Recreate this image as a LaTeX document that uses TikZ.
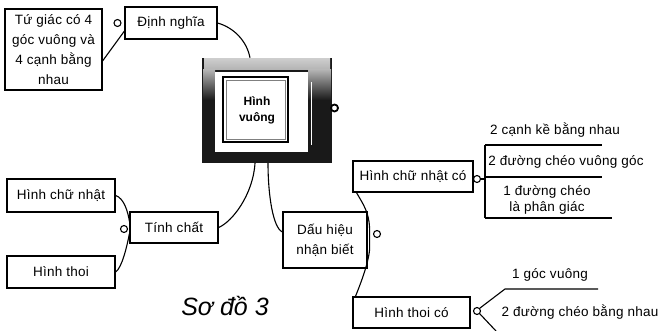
\documentclass[tikz,border=0pt]{standalone}
\usepackage{fontspec}
\setmainfont{Liberation Sans}
\newfontfamily\lab[LetterSpace=2]{Liberation Sans}
\begin{document}
\begin{tikzpicture}[x=1pt,y=-1pt,
  box/.style={draw, line width=1.1pt, fill=white, font=\lab\fontsize{13.5}{20}\selectfont, align=center, inner sep=0pt},
  lbl/.style={font=\lab\fontsize{13.5}{16}\selectfont, align=center, inner sep=0pt},
  conn/.style={line width=1.1pt},
  knob/.style={circle, draw, line width=1.1pt, minimum size=7pt, inner sep=0pt, fill=white,
    path picture={\fill (path picture bounding box.center) circle (1.1pt);}}]
\useasboundingbox (0,0) rectangle (662,331);

% central box
\fill[black!90] (202,58) rectangle (332,163);
\shade[top color=gray!40, bottom color=gray!60] (204,59) rectangle (330,70);
\shade[top color=gray!60, bottom color=black!90] (203,70) rectangle (215,100);
\shade[top color=gray!60, bottom color=black!90] (308,70) rectangle (331,100);
\fill[white] (215,72) rectangle (308,152);
\draw[white, line width=0.8pt] (311,82) -- (311,145);
\draw[line width=1.6pt] (223,77) rectangle (288,142);
\draw[gray, line width=0.6pt] (226,80) rectangle (285,139);
\node[draw=none, minimum width=130pt, minimum height=105pt, inner sep=0pt] (hv) at (267,110.5) {};
\node[font=\fontsize{12}{16}\selectfont\bfseries, align=center] (hvt) at (257,110) {Hình\\vuông};
\node[circle, draw, line width=1.8pt, minimum size=7pt, inner sep=0pt, fill=white,
  path picture={\fill (path picture bounding box.center) circle (1.2pt);}] (kc) at (334.5,108) {};

% boxes
\node[box, minimum width=97pt, minimum height=81pt] (tg) at (53.5,49.5) {Tứ giác có 4\\góc vuông và\\4 cạnh bằng\\nhau};
\node[box, minimum width=92pt, minimum height=32pt] (dn) at (171,23) {Định nghĩa};
\node[box, minimum width=108pt, minimum height=33pt] (hcn) at (61,195.5) {Hình chữ nhật};
\node[box, minimum width=108pt, minimum height=32pt] (ht) at (61,272) {Hình thoi};
\node[box, minimum width=88pt, minimum height=31pt] (tc) at (174,227.5) {Tính chất};
\node[box, minimum width=84pt, minimum height=56pt] (dh) at (325,240) {Dấu hiệu\\nhận biết};
\node[box, minimum width=120pt, minimum height=31pt] (hcnco) at (413,176.5) {Hình chữ nhật có};
\node[box, minimum width=117pt, minimum height=31pt] (htco) at (411.5,312.5) {Hình thoi có};

% connectors
\draw[conn] ([yshift=-11.5pt]tg.east) -- ([yshift=-8pt]dn.west);
\draw[conn] (dn.east) .. controls (235,28) and (247,42) .. ([xshift=-17pt]hv.north);
\draw[conn] ([xshift=-12pt]hv.south) .. controls (253,195) and (232,222) .. (tc.east);
\draw[conn] ([xshift=1pt]hv.south) .. controls (268,195) and (273,228) .. ([yshift=8pt]dh.west);
\draw[conn] (hcn.east) .. controls (124,198) and (128,212) .. ([yshift=6pt]tc.west);
\draw[conn] (ht.east) .. controls (122,268) and (127,246) .. ([yshift=-6pt]tc.west);
\draw[conn] ([xshift=4pt]hcnco.south west) .. controls (363,204) and (369,212) .. ([xshift=2pt,yshift=12pt]dh.east)
  -- ([xshift=2pt,yshift=-10pt]dh.east) .. controls (368,265) and (360,285) .. ([xshift=3pt]htco.north west);

\node[knob] (k1) at (117.5,23) {};
\node[knob] (k3) at (124,229) {};
\node[knob] (k4) at (377,234) {};
\node[knob] (k5) at (477,179) {};
\node[knob] (k6) at (477,311) {};

% bracket of Hinh chu nhat co
\coordinate (b1) at (485,145);
\coordinate (b2) at (485,177);
\coordinate (b3) at (485,218);
\coordinate (bm) at (485,179);
\draw[conn] (b1) -- (b3);
\draw[conn] (b1) -- ++(117,0);
\draw[conn] (b2) -- ++(117,0);
\draw[conn] (b3) -- ++(127,0);
\draw[conn] (k5.east) -- (bm);
\node[lbl] (t1) at (555,130) {2 cạnh kề bằng nhau};
\node[lbl] (t2) at (566,162) {2 đường chéo vuông góc};
\node[lbl] (t3) at (547,200) {1 đường chéo\\là phân giác};

% branches of Hinh thoi co
\coordinate (c1) at (505,289);
\coordinate (c2) at (598,289);
\coordinate (c3) at (496,331);
\draw[conn] (k6.north east) -- (c1) -- (c2);
\draw[conn] (k6.south east) -- (c3);
\node[lbl] (t4) at (550,275) {1 góc vuông};
\node[lbl] (t5) at (580,312) {2 đường chéo bằng nhau};

\node[font=\fontsize{25}{30}\selectfont\itshape, anchor=base, inner sep=0pt] (title) at (225,316) {Sơ đồ 3};
\end{tikzpicture}
\end{document}
